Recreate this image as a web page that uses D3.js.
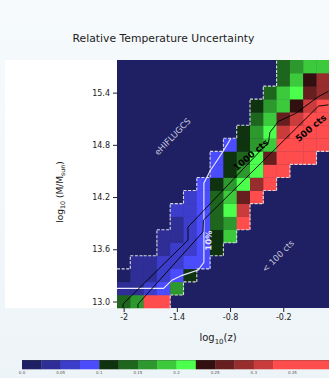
<!DOCTYPE html>
<html>
<head>
<meta charset="utf-8">
<script src="https://cdn.jsdelivr.net/npm/d3@7"></script>
<style>
  html, body { margin: 0; padding: 0; background: #f3f8fb; }
  svg { display: block; font-family: "DejaVu Sans", sans-serif; }
</style>
</head>
<body>
<div id="chart"></div>
<script>
// bin centres of the grid
const logZ = [-2, -1.85, -1.7, -1.55, -1.4, -1.25, -1.1, -0.95, -0.8, -0.65, -0.5, -0.35, -0.2, -0.05, 0.1, 0.25];
const logM = [13.0, 13.15, 13.3, 13.45, 13.6, 13.75, 13.9, 14.05, 14.2, 14.35, 14.5, 14.65, 14.8, 14.95, 15.1, 15.25, 15.4, 15.55, 15.7];
const n = null;
// relative temperature uncertainty, one row per logM bin (bottom to top), null = below 100 counts
const uncertainty = [
  [0.14, 0.16, 0.36, 0.36, n, n, n, n, n, n, n, n, n, n, n, n],
  [0.04, 0.04, 0.06, 0.09, 0.16, n, n, n, n, n, n, n, n, n, n, n],
  [0.02, 0.04, 0.04, 0.06, 0.09, 0.11, n, n, n, n, n, n, n, n, n, n],
  [n, 0.04, 0.04, 0.06, 0.06, 0.09, 0.09, n, n, n, n, n, n, n, n, n],
  [n, n, n, 0.04, 0.06, 0.06, 0.09, 0.11, n, n, n, n, n, n, n, n],
  [n, n, n, 0.04, 0.04, 0.06, 0.09, 0.11, 0.19, n, n, n, n, n, n, n],
  [n, n, n, n, 0.04, 0.06, 0.09, 0.14, 0.16, 0.36, n, n, n, n, n, n],
  [n, n, n, n, 0.06, 0.06, 0.09, 0.14, 0.21, 0.31, n, n, n, n, n, n],
  [n, n, n, n, n, 0.06, 0.09, 0.14, 0.19, 0.26, 0.36, n, n, n, n, n],
  [n, n, n, n, n, n, 0.09, 0.11, 0.16, 0.21, 0.29, 0.36, n, n, n, n],
  [n, n, n, n, n, n, n, 0.09, 0.11, 0.16, 0.21, 0.36, 0.36, n, n, n],
  [n, n, n, n, n, n, n, 0.09, 0.11, 0.14, 0.21, 0.26, 0.36, 0.36, 0.36, n],
  [n, n, n, n, n, n, n, n, 0.09, 0.11, 0.16, 0.19, 0.36, 0.36, 0.36, 0.36],
  [n, n, n, n, n, n, n, n, n, 0.11, 0.16, 0.21, 0.31, 0.36, 0.36, 0.36],
  [n, n, n, n, n, n, n, n, n, n, 0.14, 0.19, 0.26, 0.31, 0.36, 0.36],
  [n, n, n, n, n, n, n, n, n, n, 0.11, 0.16, 0.19, 0.24, 0.31, 0.36],
  [n, n, n, n, n, n, n, n, n, n, n, 0.14, 0.19, 0.21, 0.26, 0.29],
  [n, n, n, n, n, n, n, n, n, n, n, n, 0.14, 0.19, 0.24, 0.29],
  [n, n, n, n, n, n, n, n, n, n, n, n, 0.14, 0.16, 0.19, 0.19]
];
// contour lines [logZ, logM]
const contour10pct = [[-2.075, 13.15], [-1.55, 13.15], [-1.455, 13.245], [-1.34, 13.30], [-1.16, 13.36], [-1.095, 13.45], [-1.095, 14.36], [-1.026, 14.50], [-0.95, 14.615], [-0.876, 14.73], [-0.79, 14.875]];
const contour1000 = [[-2.007, 12.925], [-2.007, 12.97], [-1.274, 13.705], [-1.274, 13.855], [-0.366, 14.83], [-0.35, 14.945], [-0.254, 15.07], [-0.062, 15.16], [0.197, 15.355], [0.31, 15.415]];
const contour500 = [[-1.838, 12.925], [-1.838, 12.97], [-1.105, 13.80], [-1.10, 13.935], [0.197, 15.245], [0.31, 15.26]];
const cbTicks = [0.0, 0.05, 0.1, 0.15, 0.2, 0.25, 0.3, 0.35];
const cbBounds = [0.025, 0.05, 0.075, 0.1, 0.125, 0.15, 0.175, 0.2, 0.225, 0.25, 0.275, 0.3, 0.325];
const cbColors = ["#1f1f63", "#2e2e96", "#3d3dcb", "#4c4cff", "#0f320f", "#1e661e", "#2d982d", "#3cca3c", "#4cff4c",
                  "#331010", "#661e1e", "#982d2d", "#ca3c3c", "#ff4c4c"];

const W = 329, H = 378;
const plot = { left: 117, right: 329.8, top: 60, bottom: 308 };

const svg = d3.select("#chart").append("svg").attr("width", W).attr("height", H);

const defs = svg.append("defs");
const grad = defs.append("linearGradient").attr("id", "bg").attr("x1", 0).attr("y1", 0).attr("x2", 0).attr("y2", 1);
grad.append("stop").attr("offset", "0%").attr("stop-color", "#f6fafd");
grad.append("stop").attr("offset", "100%").attr("stop-color", "#edf4f7");
svg.append("rect").attr("width", W).attr("height", H).attr("fill", "url(#bg)");

// white panel behind the y axis
svg.append("rect").attr("x", 5).attr("y", plot.top).attr("width", plot.left - 5)
  .attr("height", plot.bottom - plot.top).attr("fill", "#ffffff");

const x = d3.scaleLinear().domain([-2.075, 0.325]).range([plot.left, plot.right]);
const y = d3.scaleLinear().domain([12.925, 15.775]).range([plot.bottom, plot.top]);
const color = d3.scaleThreshold().domain(cbBounds).range(cbColors);
const half = 0.075;

const g = svg.append("g");
g.append("rect").attr("x", plot.left).attr("y", plot.top)
  .attr("width", plot.right - plot.left).attr("height", plot.bottom - plot.top).attr("fill", cbColors[0]);

// cells
const cells = [];
uncertainty.forEach((row, j) => row.forEach((v, i) => {
  if (v !== null) cells.push({ i, j, v });
}));
g.selectAll(".cell").data(cells).enter().append("rect")
  .attr("class", "cell")
  .attr("x", d => x(logZ[d.i] - half))
  .attr("y", d => y(logM[d.j] + half))
  .attr("width", d => x(logZ[d.i] + half) - x(logZ[d.i] - half) + 0.3)
  .attr("height", d => y(logM[d.j] - half) - y(logM[d.j] + half) + 0.3)
  .attr("fill", d => color(d.v));

// dashed outline of the 100 cts region
const isIn = (i, j) => j >= 0 && j < logM.length && i >= 0 && i < logZ.length && uncertainty[j][i] !== null;
const edges = [];
cells.forEach(({ i, j }) => {
  const x0 = logZ[i] - half, x1 = logZ[i] + half, y0 = logM[j] - half, y1 = logM[j] + half;
  if (i > 0 && !isIn(i - 1, j)) edges.push([[x0, y0], [x0, y1]]);
  if (i < logZ.length - 1 && !isIn(i + 1, j)) edges.push([[x1, y0], [x1, y1]]);
  if (j > 0 && !isIn(i, j - 1)) edges.push([[x0, y0], [x1, y0]]);
  if (j < logM.length - 1 && !isIn(i, j + 1)) edges.push([[x0, y1], [x1, y1]]);
});
g.selectAll(".edge").data(edges).enter().append("line")
  .attr("x1", d => x(d[0][0])).attr("y1", d => y(d[0][1]))
  .attr("x2", d => x(d[1][0])).attr("y2", d => y(d[1][1]))
  .attr("stroke", "#d9d9e6").attr("stroke-width", 1.1).attr("stroke-dasharray", "3,1.6");

const line = d3.line().x(d => x(d[0])).y(d => y(d[1]));
g.append("path").attr("d", line(contour10pct)).attr("fill", "none").attr("stroke", "#ececff").attr("stroke-width", 1.1);
g.append("path").attr("d", line(contour1000)).attr("fill", "none").attr("stroke", "#000").attr("stroke-width", 0.9);
g.append("path").attr("d", line(contour500)).attr("fill", "none").attr("stroke", "#000").attr("stroke-width", 0.9);

// annotations
const label = (txt, cx, cy, rot, opts) => {
  g.append("text").attr("transform", `translate(${cx},${cy}) rotate(${rot})`)
    .attr("text-anchor", "middle").attr("dominant-baseline", "central")
    .attr("font-size", opts.size).attr("font-weight", opts.weight || "normal")
    .attr("fill", opts.fill).text(txt);
};
label("eHIFLUGCS", 172.5, 136.5, -46, { size: 8.5, fill: "#c9c9dc" });
label("1000 cts", 251, 155, -40, { size: 9, weight: "bold", fill: "#000" });
label("500 cts", 311, 128, -40, { size: 9, weight: "bold", fill: "#000" });
label("10%", 208.5, 240.5, -88, { size: 8.5, weight: "bold", fill: "#e6e6ff" });
label("< 100 cts", 278, 256, -45, { size: 8.5, fill: "#c9c9dc" });

// axes
const yAxis = svg.append("g").attr("transform", `translate(${plot.left},0)`)
  .call(d3.axisLeft(y).tickValues([13.0, 13.6, 14.2, 14.8, 15.4]).tickFormat(d3.format(".1f")).tickSize(4).tickPadding(3));
const xAxis = svg.append("g").attr("transform", `translate(0,${plot.bottom})`)
  .call(d3.axisBottom(x).tickValues([-2, -1.4, -0.8, -0.2]).tickFormat(d => String(d)).tickSize(4).tickPadding(2));
[xAxis, yAxis].forEach(a => {
  a.select(".domain").remove();
  a.selectAll("text").attr("font-size", 8).attr("fill", "#222").attr("font-family", "DejaVu Sans");
  a.selectAll("line").attr("stroke", "#222");
});

// title and axis labels
svg.append("text").attr("x", 163.5).attr("y", 41.5).attr("text-anchor", "middle")
  .attr("font-size", 10.8).attr("fill", "#222").text("Relative Temperature Uncertainty");

const xl = svg.append("text").attr("x", 218).attr("y", 341).attr("text-anchor", "middle")
  .attr("font-size", 10).attr("fill", "#222");
xl.append("tspan").text("log");
xl.append("tspan").attr("dy", 2.5).attr("font-size", 7).text("10");
xl.append("tspan").attr("dy", -2.5).text("(z)");

const yl = svg.append("text").attr("transform", "translate(63,192) rotate(-90)").attr("text-anchor", "middle")
  .attr("font-size", 9).attr("fill", "#222");
yl.append("tspan").text("log");
yl.append("tspan").attr("dy", 2.3).attr("font-size", 6.3).text("10");
yl.append("tspan").attr("dy", -2.3).text(" (M/M");
yl.append("tspan").attr("dy", 2.3).attr("font-size", 6.3).text("sun");
yl.append("tspan").attr("dy", -2.3).text(")");

// colorbar
const cb = d3.scaleLinear().domain([0, 0.4]).range([22, 331]);
const cbEdges = [0, ...cbBounds, 0.4];
svg.selectAll(".cbseg").data(cbColors).enter().append("rect")
  .attr("x", (d, k) => cb(cbEdges[k]))
  .attr("y", 360)
  .attr("width", (d, k) => cb(cbEdges[k + 1]) - cb(cbEdges[k]) + 0.3)
  .attr("height", 9.3)
  .attr("fill", d => d);
svg.append("line").attr("x1", cb(0)).attr("x2", cb(0.4)).attr("y1", 360.3).attr("y2", 360.3)
  .attr("stroke", "#444").attr("stroke-width", 0.6).attr("opacity", 0.6);
svg.selectAll(".cbtick").data(cbTicks).enter().append("text")
  .attr("x", d => cb(d)).attr("y", 373.5).attr("text-anchor", "middle")
  .attr("font-size", 4).attr("fill", "#555").text(d => d === 0 ? "0.0" : String(d));
</script>
</body>
</html>
